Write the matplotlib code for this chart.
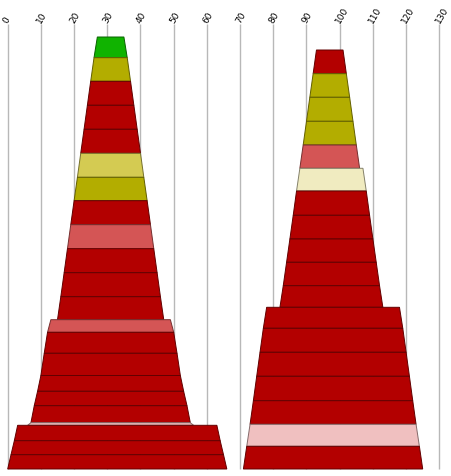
import numpy as np
import matplotlib
matplotlib.use('Agg')
import matplotlib.pyplot as plt
from matplotlib.patches import Polygon
from matplotlib.colors import to_rgb

# colours used by the layers
RED = '#b30000'
OLIVE = '#b3ad00'
LOLIVE = '#d4cb52'
GREEN = '#10b300'
SALMON = '#d45555'
CREAM = '#f0ebc0'
PINK = '#f0c0c0'

# left tower, layers from top to bottom
left_heights = [20.7, 23.6, 24, 24, 24, 24, 23.4, 24, 24, 24, 24, 23,
                12.6, 21, 22.2, 15.8, 14.4, 17, 2.6,
                15.4, 14, 14.3]
left_colors = [GREEN, OLIVE, RED, RED, RED, LOLIVE, OLIVE, RED, SALMON, RED, RED, RED,
               SALMON, RED, RED, RED, RED, RED, PINK,
               RED, RED, RED]
left_section_sizes = [12, 7, 3]
left_section_widths = [8, 36, 60]
left_section_centers = [31, 31, 33]

# right tower, layers from top to bottom
right_heights = [23.7, 23.6, 24, 23.7, 23.3,
                 22.7, 24.3, 23.7, 23.3, 23.4, 21.6,
                 21, 24, 24, 24.4, 23.6, 22, 22.7]
right_colors = [RED, OLIVE, OLIVE, OLIVE, SALMON,
                CREAM, RED, RED, RED, RED, RED,
                RED, RED, RED, RED, RED, PINK, RED]
right_section_sizes = [5, 6, 7]
right_section_widths = [8, 19, 40]
right_section_centers = [97, 97.5, 98]

ticks = list(range(0, 131, 10))
STEP = 2      # each layer is this much wider than the one above


def darker(c, f=0.55):
    r, g, b = to_rgb(c)
    return (r * f, g * f, b * f)


def draw_tower(ax, heights, colors, sizes, widths, centers):
    top = sum(heights)
    k = 0
    for n, w0, cx in zip(sizes, widths, centers):
        for i in range(n):
            h = heights[k]
            wt = w0 + STEP * i
            wb = wt + STEP
            pts = [(cx - wt / 2, top), (cx + wt / 2, top),
                   (cx + wb / 2, top - h), (cx - wb / 2, top - h)]
            ax.add_patch(Polygon(pts, closed=True, facecolor=colors[k],
                                 edgecolor=darker(colors[k]), lw=0.7, zorder=3))
            top -= h
            k += 1


fig = plt.figure(figsize=(4.52, 4.77), dpi=100)
ax = fig.add_axes([0, 0, 1, 1])
ax.set_xlim(-7.7 / 3.32, (452 - 7.7) / 3.32)
ax.set_ylim(-7, 470)
ax.axis('off')

ax.vlines(ticks, 0, 445, color='#b8b8b8', lw=1, zorder=1)
for t in ticks:
    ax.text(t - 0.6, 447, str(t), rotation=60, rotation_mode='anchor',
            ha='left', va='center', fontsize=6.5, color='black')

draw_tower(ax, left_heights, left_colors, left_section_sizes,
           left_section_widths, left_section_centers)
draw_tower(ax, right_heights, right_colors, right_section_sizes,
           right_section_widths, right_section_centers)

fig.savefig('out.png', dpi=100)
